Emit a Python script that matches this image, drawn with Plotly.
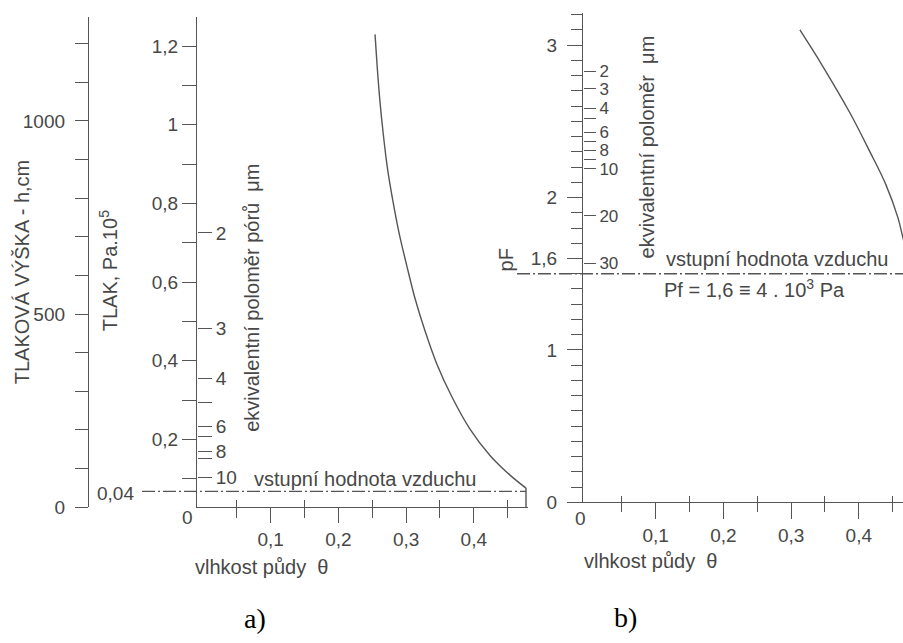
import plotly.graph_objects as go

# ---------------- data ----------------
# panel a) : soil moisture theta vs. pressure (TLAK, Pa.10^5)
theta_a = [0.2541, 0.2575, 0.2614, 0.2663, 0.2722, 0.2802, 0.2895, 0.3009, 0.3131, 0.3279,
           0.3452, 0.3674, 0.3944, 0.4239, 0.4535, 0.4771]
tlak_a = [1.230, 1.1425, 1.059, 0.976, 0.8925, 0.809, 0.726, 0.6425, 0.559, 0.476,
          0.3925, 0.309, 0.226, 0.159, 0.109, 0.076]
# closing vertical segment at saturation
theta_a_end = [0.4771, 0.4771]
tlak_a_end = [0.076, 0.0275]

# panel b) : soil moisture theta vs. pF
theta_b = [0.313, 0.347, 0.387, 0.4165, 0.440, 0.458, 0.4653, 0.473]
pf_b = [3.10, 2.86, 2.555, 2.30, 2.085, 1.865, 1.735, 1.61]

# x ticks (both panels)
theta_major = [0.1, 0.2, 0.3, 0.4]
theta_major_txt = ["0,1", "0,2", "0,3", "0,4"]
theta_minor = [0.05, 0.15, 0.25, 0.35, 0.45]

# panel a) axes
tlak_major = [0.2, 0.4, 0.6, 0.8, 1.0, 1.2]
tlak_major_txt = ["0,2", "0,4", "0,6", "0,8", "1", "1,2"]
tlak_minor = [0.1, 0.3, 0.5, 0.7, 0.9, 1.1]
h_major = [0, 500, 1000]
h_major_txt = ["0", "500", "1000"]
h_minor = [100, 200, 300, 400, 600, 700, 800, 900, 1100, 1200]
radius_a_pos = [0.725, 0.4825, 0.355, 0.2325, 0.17, 0.1025]
radius_a_txt = ["2", "3", "4", "6", "8", "10"]
radius_a_minor = [0.2925, 0.2075, 0.1525]
air_entry_a_h = [41, 41]          # cm  (0,04 . 10^5 Pa)

# panel b) axes
pf_major = [0, 1, 1.6, 2, 3]
pf_major_txt = ["0", "1", "1,6", "2", "3"]
pf_minor = [0.1, 0.2, 0.3, 0.4, 0.5, 0.6, 0.7, 0.8, 0.9, 1.1, 1.2, 1.3, 1.4, 1.5, 1.7, 1.8, 1.9,
            2.1, 2.2, 2.3, 2.4, 2.5, 2.6, 2.7, 2.8, 2.9, 3.1, 3.2]
radius_b_pos = [2.83, 2.715, 2.585, 2.43, 2.31, 2.19, 1.88, 1.57]
radius_b_txt = ["2", "3", "4", "6", "8", "10", "20", "30"]
radius_b_minor = [2.52, 2.37, 2.25]
air_entry_b_pf = [1.5, 1.5]

# ---------------- geometry helpers (layout only) ----------------
W, H = 903, 643
def px(x):
    return x / W
def py(y):
    return 1 - y / H

GREY = "#555555"
TXT = "#474747"
FONT = "Liberation Sans, Arial, sans-serif"
TICKFONT = dict(family=FONT, size=19, color=TXT)
SMALLTICKFONT = dict(family=FONT, size=17, color=TXT)

fig = go.Figure()

# curves
fig.add_trace(go.Scatter(x=theta_a, y=tlak_a, mode="lines", xaxis="x", yaxis="y",
                         line=dict(color=GREY, width=1.4, shape="spline", smoothing=1.0),
                         showlegend=False, hoverinfo="skip"))
fig.add_trace(go.Scatter(x=theta_a_end, y=tlak_a_end, mode="lines", xaxis="x", yaxis="y",
                         line=dict(color=GREY, width=1.4),
                         showlegend=False, hoverinfo="skip"))
fig.add_trace(go.Scatter(x=theta_b, y=pf_b, mode="lines", xaxis="x2", yaxis="y5",
                         line=dict(color=GREY, width=1.4, shape="spline", smoothing=1.0),
                         showlegend=False, hoverinfo="skip"))

# empty traces so every overlay axis gets drawn
for xa, ya in [("x", "y2"), ("x", "y3"), ("x", "y4"), ("x2", "y6"),
               ("x4", "y"), ("x6", "y5")]:
    fig.add_trace(go.Scatter(x=[], y=[], xaxis=xa, yaxis=ya, showlegend=False, hoverinfo="skip"))

# ranges derived from the picture scale
xa_range = [(197 - 203) / 677, (528 - 203) / 677]
ya_range = [(527 - 516) / 400, (527 - 17) / 400]
h_range = [0, (516 - 17) / 0.393]
xb_range = [(583 - 588) / 677, (903 - 588) / 677]
pf_range = [0, (511 - 13) / 155]

dom_ya = [py(516), py(17)]
dom_yb = [py(511), py(13)]
dom_xa = [px(197), px(528)]
dom_xb = [px(583), 1.0]

axline = dict(showline=True, linecolor=GREY, linewidth=1.3, showgrid=False, zeroline=False,
              tickcolor=GREY, tickwidth=1.2, tickfont=TICKFONT, fixedrange=True)
noline = dict(showline=False, showgrid=False, zeroline=False, tickcolor=GREY, tickwidth=1.2,
              tickfont=TICKFONT, fixedrange=True)
def minor(vals, length, side="outside"):
    return dict(tickmode="array", tickvals=vals, ticklen=length, ticks=side,
                tickcolor=GREY, tickwidth=1.2, showgrid=False)

layout = dict(
    width=W, height=H, margin=dict(l=0, r=0, t=0, b=0),
    paper_bgcolor="white", plot_bgcolor="rgba(0,0,0,0)", showlegend=False,
    font=dict(family=FONT, color=TXT),
    # ---- panel a
    xaxis=dict(domain=dom_xa, range=xa_range, anchor="y", tickmode="array",
               tickvals=theta_major, ticktext=theta_major_txt, ticks="outside", ticklen=15,
               minor=minor(theta_minor, 10), **axline),
    xaxis4=dict(overlaying="x", matches="x", anchor="y", tickmode="array", tickvals=theta_minor,
                ticks="inside", ticklen=7, showticklabels=False, **noline),
    yaxis=dict(domain=dom_ya, range=ya_range, anchor="x", tickmode="array",
               tickvals=tlak_major, ticktext=tlak_major_txt, ticks="outside", ticklen=14,
               minor=minor(tlak_minor, 14), **axline),
    yaxis2=dict(overlaying="y", matches="y", anchor="free", position=px(197), side="right",
                tickmode="array", tickvals=radius_a_pos, ticktext=radius_a_txt,
                ticks="outside", ticklen=14, minor=minor(radius_a_minor, 14), **noline),
    yaxis3=dict(overlaying="y", anchor="free", position=px(88), side="left", range=h_range,
                tickmode="array", tickvals=h_major, ticktext=h_major_txt, ticks="outside", ticklen=13,
                ticklabelstandoff=6, minor=minor(h_minor, 13), **axline),
    yaxis4=dict(overlaying="y", matches="y3", anchor="free", position=px(88), side="left",
                tickmode="array", tickvals=[0], ticks="inside", ticklen=15,
                showticklabels=False, **noline),
    # ---- panel b
    xaxis2=dict(domain=dom_xb, range=xb_range, anchor="y5", tickmode="array",
                tickvals=theta_major, ticktext=theta_major_txt, ticks="outside", ticklen=16,
                minor=minor(theta_minor, 9), **axline),
    xaxis6=dict(overlaying="x2", matches="x2", anchor="y5", tickmode="array", tickvals=theta_minor,
                ticks="inside", ticklen=6, showticklabels=False, **noline),
    yaxis5=dict(domain=dom_yb, range=pf_range, anchor="x2", tickmode="array",
                tickvals=pf_major, ticktext=pf_major_txt, ticks="outside", ticklen=15,
                ticklabelstandoff=6, minor=minor(pf_minor, 11), **axline),
    yaxis6=dict(overlaying="y5", matches="y5", anchor="free", position=px(583), side="right",
                tickmode="array", tickvals=radius_b_pos, ticktext=radius_b_txt,
                ticks="outside", ticklen=12, minor=minor(radius_b_minor, 12),
                **{**noline, "tickfont": SMALLTICKFONT}),
)
fig.update_layout(**layout)

# air-entry reference lines (dash-dot)
DASH = "13px,3px,2px,3px"
fig.add_shape(type="line", xref="paper", yref="y3", x0=px(142), x1=px(526),
              y0=air_entry_a_h[0], y1=air_entry_a_h[1], line=dict(color=GREY, width=1.3, dash=DASH))
fig.add_shape(type="line", xref="paper", yref="y5", x0=px(517), x1=1.0,
              y0=air_entry_b_pf[0], y1=air_entry_b_pf[1], line=dict(color=GREY, width=1.3, dash=DASH))

def ann(text, x, y, size=20, angle=0, xanchor="center", color=TXT, family=FONT):
    fig.add_annotation(text=text, x=px(x), y=py(y), xref="paper", yref="paper",
                       showarrow=False, textangle=angle, xanchor=xanchor, yanchor="middle",
                       font=dict(family=family, size=size, color=color))

# panel a texts
ann("TLAKOVÁ VÝŠKA - h,cm", 22, 277, angle=-90)
ann("TLAK, Pa.10<sup>5</sup>", 108, 276, angle=-90)
ann("ekvivalentní poloměr pórů  μm", 252, 303, angle=-90)
ann("0,04", 115, 502, size=19)
ann("0", 187, 526, size=19)
ann("vstupní hodnota vzduchu", 365, 487)
ann("vlhkost půdy  θ", 261, 577)
ann("a)", 255, 629, size=28, color="#000000", family="Liberation Serif, Times New Roman, serif")

# panel b texts
ann("pF", 506, 265, angle=-90)
ann("ekvivalentní poloměr  μm", 647, 150, angle=-90)
ann("vstupní hodnota vzduchu", 777, 263)
ann("Pf = 1,6 ≡ 4 . 10<sup>3</sup> Pa", 662, 294, xanchor="left")
ann("vlhkost půdy  θ", 650, 571)
ann("0", 580, 528, size=19)
ann("b)", 625, 628, size=28, color="#000000", family="Liberation Serif, Times New Roman, serif")

fig.write_html("out.html")
